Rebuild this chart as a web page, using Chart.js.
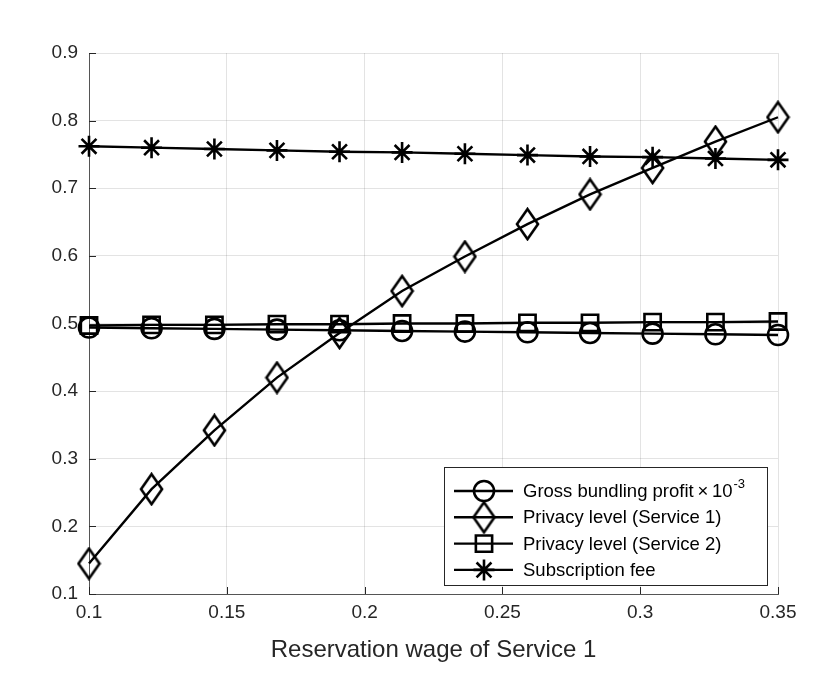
<!DOCTYPE html>
<html>
<head>
<meta charset="utf-8">
<script src="https://cdn.jsdelivr.net/npm/chart.js@4.4.1/dist/chart.umd.min.js"></script>
<style>
  html, body { margin: 0; padding: 0; background: #fff; }
</style>
</head>
<body>
<canvas id="plot" width="825" height="675"></canvas>
<script>
// x values: reservation wage of service 1 (12 samples, 0.1 .. 0.35)
const wages = [0.1, 0.1227, 0.1455, 0.1682, 0.1909, 0.2136, 0.2364, 0.2591, 0.2818, 0.3045, 0.3273, 0.35];

const grossProfit = [0.494, 0.493, 0.492, 0.491, 0.490, 0.489, 0.488, 0.487, 0.486, 0.485, 0.484, 0.483];
const privacy1    = [0.145, 0.255, 0.342, 0.420, 0.486, 0.548, 0.599, 0.647, 0.691, 0.730, 0.769, 0.805];
const privacy2    = [0.497, 0.498, 0.498, 0.499, 0.499, 0.500, 0.500, 0.501, 0.501, 0.502, 0.502, 0.503];
const subFee      = [0.762, 0.760, 0.758, 0.756, 0.754, 0.753, 0.751, 0.749, 0.747, 0.746, 0.744, 0.742];

const seriesNames = [
    "Gross bundling profit\u2009\u00d7\u200910^{-3}",
    "Privacy level (Service 1)",
    "Privacy level (Service 2)",
    "Subscription fee"
];

const xTicks = [0.1, 0.15, 0.2, 0.25, 0.3, 0.35];
const yTicks = [0.1, 0.2, 0.3, 0.4, 0.5, 0.6, 0.7, 0.8, 0.9];
const xLabel = "Reservation wage of Service 1";

const FONT = "'Liberation Sans', Arial, Helvetica, sans-serif";
const AXIS_COLOR = "#262626";
const MARK_W = 2.6;

// matlab style diamond is a bit taller than wide, so draw it on a small canvas
function makeDiamond(w, h) {
    let c = document.createElement("canvas");
    c.width = w + 4;
    c.height = h + 4;
    let g = c.getContext("2d");
    g.strokeStyle = "#000";
    g.lineWidth = MARK_W;
    g.lineJoin = "miter";
    g.beginPath();
    g.moveTo(c.width / 2, 2);
    g.lineTo(c.width - 2, c.height / 2);
    g.lineTo(c.width / 2, c.height - 2);
    g.lineTo(2, c.height / 2);
    g.closePath();
    g.stroke();
    return c;
}
const diamond = makeDiamond(21, 30);

function toPoints(ys) {
    return wages.map((x, i) => ({ x: x, y: ys[i] }));
}

function series(label, ys, style, radius) {
    return {
        label: label,
        data: toPoints(ys),
        borderColor: "#000",
        borderWidth: 2.4,
        backgroundColor: "transparent",
        pointStyle: style,
        pointRadius: radius,
        pointBorderColor: "#000",
        pointBorderWidth: MARK_W,
        pointBackgroundColor: "transparent",
        fill: false,
        tension: 0,
        clip: false
    };
}

// tick marks pointing into the plot, like matlab
const innerTicks = {
    id: "innerTicks",
    afterDatasetsDraw(chart) {
        const { ctx, chartArea, scales } = chart;
        const len = 7;
        ctx.save();
        ctx.strokeStyle = AXIS_COLOR;
        ctx.lineWidth = 1;
        ctx.beginPath();
        xTicks.forEach(v => {
            let px = Math.round(scales.x.getPixelForValue(v)) + 0.5;
            ctx.moveTo(px, chartArea.bottom);
            ctx.lineTo(px, chartArea.bottom - len);
        });
        yTicks.forEach(v => {
            let py = Math.round(scales.y.getPixelForValue(v)) + 0.5;
            ctx.moveTo(chartArea.left, py);
            ctx.lineTo(chartArea.left + len, py);
        });
        ctx.stroke();
        ctx.restore();
    }
};

// draw text with ^{...} superscripts
function drawRich(ctx, text, x, y, size) {
    let parts = text.split(/(\^\{[^}]*\})/);
    parts.forEach(p => {
        if (!p) return;
        if (p.startsWith("^{")) {
            let s = p.slice(2, -1);
            ctx.font = Math.round(size * 0.7) + "px " + FONT;
            ctx.fillText(s, x + 1, y - size * 0.42);
            x += ctx.measureText(s).width;
        } else {
            ctx.font = size + "px " + FONT;
            ctx.fillText(p, x, y);
            x += ctx.measureText(p).width;
        }
    });
}

// boxed legend in the lower right corner of the axes
const boxLegend = {
    id: "boxLegend",
    afterDraw(chart) {
        const { ctx, chartArea } = chart;
        const w = 323, h = 118;
        const x0 = chartArea.right - 11 - w;
        const y0 = chartArea.bottom - 9 - h;
        ctx.save();
        ctx.fillStyle = "#fff";
        ctx.fillRect(x0, y0, w, h);
        ctx.strokeStyle = AXIS_COLOR;
        ctx.lineWidth = 1;
        ctx.strokeRect(x0 + 0.5, y0 + 0.5, w, h);

        chart.data.datasets.forEach((ds, i) => {
            let cy = y0 + 24 + i * 26.3;
            ctx.strokeStyle = "#000";
            ctx.lineWidth = 2.4;
            ctx.beginPath();
            ctx.moveTo(x0 + 10, cy);
            ctx.lineTo(x0 + 69, cy);
            ctx.stroke();
            ctx.fillStyle = "rgba(0,0,0,0)";
            ctx.lineWidth = MARK_W;
            Chart.helpers.drawPoint(ctx, {
                pointStyle: ds.pointStyle,
                radius: ds.pointRadius,
                borderWidth: MARK_W,
                rotation: 0
            }, x0 + 40, cy);
            ctx.fillStyle = "#000";
            ctx.textBaseline = "middle";
            ctx.textAlign = "left";
            drawRich(ctx, ds.label, x0 + 79, cy + 1, 18.5);
        });
        ctx.restore();
    }
};

const ctx = document.getElementById("plot").getContext("2d");

new Chart(ctx, {
    type: "line",
    data: {
        datasets: [
            series(seriesNames[0], grossProfit, "circle", 10),
            series(seriesNames[1], privacy1, diamond, 10),
            series(seriesNames[2], privacy2, "rect", 11.5),
            series(seriesNames[3], subFee, "star", 10.5)
        ]
    },
    options: {
        responsive: false,
        animation: false,
        layout: { padding: { left: 0, right: 47, top: 53, bottom: 0 } },
        plugins: {
            legend: { display: false },
            tooltip: { enabled: false }
        },
        scales: {
            x: {
                type: "linear",
                min: 0.1,
                max: 0.35,
                afterBuildTicks: s => { s.ticks = xTicks.map(v => ({ value: v })); },
                afterFit: s => { s.height = 81; },
                ticks: {
                    color: AXIS_COLOR,
                    font: { family: FONT, size: 19 },
                    padding: 7,
                    maxRotation: 0,
                    callback: v => String(+v.toFixed(2))
                },
                grid: { color: "rgba(38,38,38,0.13)", drawTicks: false },
                border: { display: true, color: "#555", width: 1 },
                title: {
                    display: true,
                    text: xLabel,
                    color: AXIS_COLOR,
                    font: { family: FONT, size: 24 },
                    padding: 10
                }
            },
            y: {
                type: "linear",
                min: 0.1,
                max: 0.9,
                afterBuildTicks: s => { s.ticks = yTicks.map(v => ({ value: v })); },
                afterFit: s => { s.width = 89; },
                ticks: {
                    color: AXIS_COLOR,
                    font: { family: FONT, size: 19 },
                    padding: 11,
                    callback: v => String(+v.toFixed(2))
                },
                grid: { color: "rgba(38,38,38,0.13)", drawTicks: false },
                border: { display: true, color: "#555", width: 1 }
            }
        }
    },
    plugins: [innerTicks, boxLegend]
});
</script>
</body>
</html>
